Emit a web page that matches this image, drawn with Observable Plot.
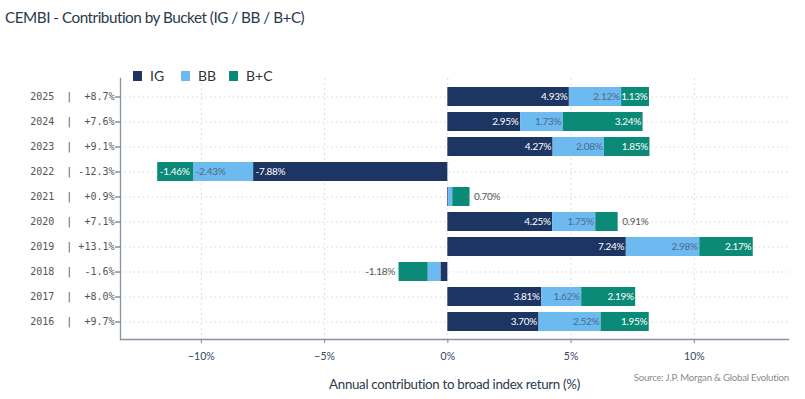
<!DOCTYPE html>
<html>
<head>
<meta charset="utf-8">
<script src="https://cdn.jsdelivr.net/npm/d3@7"></script>
<script src="https://cdn.jsdelivr.net/npm/@observablehq/plot@0.6"></script>
<style>
  html, body { margin: 0; padding: 0; background: #fff; }
  #wrap { position: relative; width: 805px; height: 399px; overflow: hidden; font-family: Lato, "Liberation Sans", sans-serif; }
  #title { position: absolute; left: 5px; top: 8px; font-size: 15.3px; letter-spacing: -0.5px; color: #2b3a4d; white-space: nowrap; line-height: 1.2; }
  #legend { position: absolute; left: 133px; top: 67.5px; display: flex; font-size: 14px; color: #333; line-height: 1.2; }
  .li { display: flex; align-items: center; width: 48px; }
  .sw { width: 9px; height: 10px; margin-right: 8px; }
  #xlabel { position: absolute; left: 0; width: 909px; top: 376.5px; text-align: center; font-size: 13.3px; letter-spacing: -0.3px; color: #2b3a4d; line-height: 1.2; white-space: nowrap; }
  #source { position: absolute; right: 16px; top: 371.5px; font-size: 9.6px; letter-spacing: -0.2px; color: #8a8a8a; line-height: 1.2; white-space: nowrap; }
  #chart { position: absolute; left: 0; top: 0; }
  .barlabel text { letter-spacing: -0.3px; }
</style>
</head>
<body>
<div id="wrap">
  <div id="chart"></div>
  <div id="title"></div>
  <div id="legend"></div>
  <div id="xlabel"></div>
  <div id="source"></div>
</div>
<script>
const years   = ["2025","2024","2023","2022","2021","2020","2019","2018","2017","2016"];
const totals  = ["+8.7%","+7.6%","+9.1%","-12.3%","+0.9%","+7.1%","+13.1%","-1.6%","+8.0%","+9.7%"];
const buckets = ["IG","BB","B+C"];
const igValues  = [4.93, 2.95, 4.27, -7.88, 0.03, 4.25, 7.24, -0.28, 3.81, 3.70];
const bbValues  = [2.12, 1.73, 2.08, -2.43, 0.17, 1.75, 2.98, -0.52, 1.62, 2.52];
const bcValues  = [1.13, 3.24, 1.85, -1.46, 0.70, 0.91, 2.17, -1.18, 2.19, 1.95];
const xTicks = [-10, -5, 0, 5, 10];

const colors = {"IG": "#1c3563", "BB": "#6cbaf0", "B+C": "#0b8a78"};
const insideText = {"IG": "#ffffff", "BB": "#4f6b86", "B+C": "#ffffff"};

const series = [igValues, bbValues, bcValues];
const data = [];
years.forEach((y, i) => buckets.forEach((b, j) => data.push({year: y, bucket: b, value: series[j][i]})));

const fmt = v => v.toFixed(2) + "%";
const pxPerUnit = 24.65;
const fits = d => Math.abs(d.value) * pxPerUnit >= fmt(d.value).length * 5;
const shown = d => Math.abs(d.value) >= 0.6;

const totalByYear = Object.fromEntries(years.map((y, i) => [y, totals[i]]));
const nb = "\u00a0";
const yTickFormat = y => y + nb + nb + "|" + totalByYear[y].padStart(7, nb);

const stackOpts = {x: "value", y: "year", z: "bucket", order: buckets};
const labelFont = 'Lato, "Liberation Sans", sans-serif';

const chart = Plot.plot({
  width: 805,
  height: 399,
  marginLeft: 120,
  marginRight: 17,
  marginTop: 78,
  marginBottom: 60,
  style: {fontFamily: labelFont, background: "transparent"},
  x: {domain: [-13.28, 13.82], ticks: xTicks, label: null},
  y: {domain: years, paddingInner: 0.24, paddingOuter: 0.185, label: null},
  color: {domain: buckets, range: buckets.map(b => colors[b])},
  marks: [
    Plot.ruleX(xTicks, {stroke: "#dcdfe3", strokeDasharray: "2,3"}),
    Plot.gridY({stroke: "#d3d7dc", strokeOpacity: 1, strokeDasharray: "1.5,3"}),
    Plot.barX(data, Plot.stackX({...stackOpts, fill: "bucket"})),
    Plot.text(data, Plot.stackX2({...stackOpts, className: "barlabel",
      text: d => (shown(d) && fits(d) && d.value > 0) ? fmt(d.value) : null,
      fill: d => insideText[d.bucket], textAnchor: "end", dx: -2,
      fontSize: 10, fontWeight: d => d.bucket === "BB" ? "normal" : "bold"})),
    Plot.text(data, Plot.stackX2({...stackOpts, className: "barlabel",
      text: d => (shown(d) && fits(d) && d.value < 0) ? fmt(d.value) : null,
      fill: d => insideText[d.bucket], textAnchor: "start", dx: 2,
      fontSize: 10, fontWeight: d => d.bucket === "BB" ? "normal" : "bold"})),
    Plot.text(data, Plot.stackX2({...stackOpts, className: "barlabel",
      text: d => (shown(d) && !fits(d) && d.value > 0) ? fmt(d.value) : null,
      fill: "#555", textAnchor: "start", dx: 4, fontSize: 10})),
    Plot.text(data, Plot.stackX2({...stackOpts, className: "barlabel",
      text: d => (shown(d) && !fits(d) && d.value < 0) ? fmt(d.value) : null,
      fill: "#555", textAnchor: "end", dx: -4, fontSize: 10})),
    Plot.axisY({tickFormat: yTickFormat, tickSize: 5, tickPadding: 1, fontSize: 10,
      fontFamily: '"DejaVu Sans Mono", monospace', fill: "#555", stroke: "#555"}),
    Plot.axisX({ticks: xTicks, tickFormat: d => (d < 0 ? "\u2212" : "") + Math.abs(d) + "%",
      tickSize: 4, tickPadding: 9, fontSize: 10.5, fill: "#34465f", stroke: "#7d8797", label: null}),
    Plot.frame({anchor: "left", stroke: "#8792a2", strokeWidth: 1.3}),
    Plot.frame({anchor: "bottom", stroke: "#8792a2", strokeWidth: 1.3})
  ]
});
document.getElementById("chart").appendChild(chart);

document.getElementById("title").textContent = "CEMBI - Contribution by Bucket (IG / BB / B+C)";
const legend = document.getElementById("legend");
buckets.forEach(b => {
  const item = document.createElement("div");
  item.className = "li";
  const sw = document.createElement("div");
  sw.className = "sw";
  sw.style.background = colors[b];
  const t = document.createElement("span");
  t.textContent = b;
  item.appendChild(sw); item.appendChild(t);
  legend.appendChild(item);
});
document.getElementById("xlabel").textContent = "Annual contribution to broad index return (%)";
document.getElementById("source").textContent = "Source: J.P. Morgan & Global Evolution";
</script>
</body>
</html>
